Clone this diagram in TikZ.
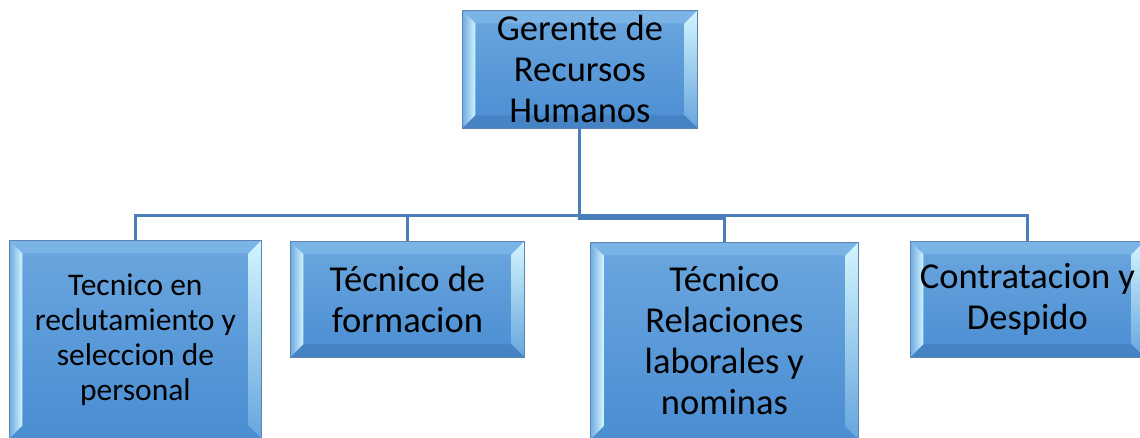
\documentclass[tikz,border=0pt]{standalone}
\usepackage{fontspec}
\setmainfont{Carlito}
\definecolor{faceTop}{HTML}{6BA7DF}
\definecolor{faceBot}{HTML}{4A8DD2}
\definecolor{bevTop}{HTML}{7AB3E6}
\definecolor{bevLeft}{HTML}{70ABE2}
\definecolor{bevLight}{HTML}{D2F5FD}
\definecolor{bevRightLow}{HTML}{66A5DE}
\definecolor{bevBot}{HTML}{4583C4}
\definecolor{edgeCol}{HTML}{5B84B1}
\definecolor{wireCol}{HTML}{4A7EBB}
\newcommand\bevelcore{%
  \coordinate (q1) at (path picture bounding box.north west);
  \coordinate (q2) at (path picture bounding box.north east);
  \coordinate (q3) at (path picture bounding box.south east);
  \coordinate (q4) at (path picture bounding box.south west);
  \fill[bevTop] (q1) -- (q2) -- ([shift={(-13,-13)}]q2) -- ([shift={(13,-13)}]q1) -- cycle;
  \shade[left color=bevLeft, middle color=bevLeft!70!bevLight, right color=bevLight] (q1) -- ([shift={(13,-13)}]q1) -- ([shift={(13,13)}]q4) -- (q4) -- cycle;
  \shade[top color=bevLight, middle color=bevLight!70!bevRightLow, bottom color=bevRightLow] (q2) -- (q3) -- ([shift={(-13,13)}]q3) -- ([shift={(-13,-13)}]q2) -- cycle;
}
\newcommand\bevelbottom{%
  \fill[bevBot] (q4) -- (q3) -- ([shift={(-13,13)}]q3) -- ([shift={(13,13)}]q4) -- cycle;
}
\tikzset{
  box/.style={draw=edgeCol, line width=0.8pt, top color=faceTop, bottom color=faceBot,
    anchor=north west, inner sep=0pt, align=center, text=black,
    font=\fontsize{36.5}{41}\selectfont, path picture={\bevelcore\bevelbottom}},
  boxcut/.style={box, path picture={\bevelcore}},
  wire/.style={draw=wireCol, line width=3pt, line join=miter}
}
\begin{document}
\begin{tikzpicture}[x=1pt,y=1pt]
\useasboundingbox (0,0) rectangle (1140,437);
\clip (0,0) rectangle (1140,437);
\node[box, minimum width=235pt, minimum height=118pt] (top) at (462,427) {Gerente de\\Recursos\\Humanos};
\node[boxcut, minimum width=252pt, minimum height=198pt, font=\fontsize{31.5}{35}\selectfont] (b1) at (9,197) {Tecnico en\\reclutamiento y\\seleccion de\\personal};
\node[box, minimum width=234pt, minimum height=116pt] (b2) at (290,196) {Técnico de\\formacion};
\node[boxcut, minimum width=268pt, minimum height=197pt] (b3) at (590,195) {Técnico\\Relaciones\\laborales y\\nominas};
\node[box, minimum width=234pt, minimum height=116pt] (b4) at (910,196) {Contratacion y\\Despido};
\coordinate (bus) at (0,221);
\coordinate (mid) at (0,219);
\draw[wire] (b1.north) -- (b1.north |- bus) -- (b4.north |- bus) -- (b4.north);
\draw[wire] (b2.north) -- (b2.north |- bus);
\draw[wire] (top.south) -- (top.south |- mid) -- (b3.north |- mid) -- (b3.north);
\end{tikzpicture}
\end{document}
